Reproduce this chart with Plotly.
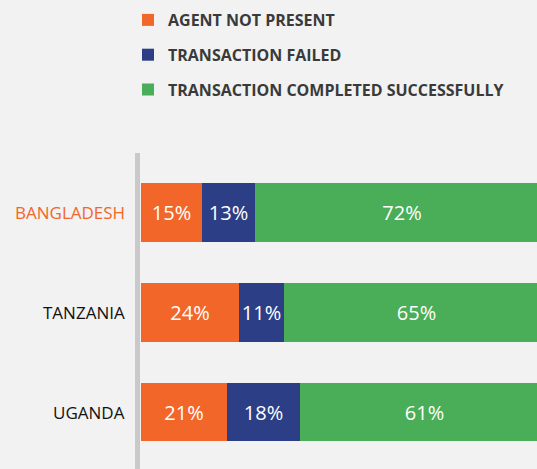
import plotly.graph_objects as go

countries = ["UGANDA", "TANZANIA", "BANGLADESH"]
agent_not_present = [21, 24, 15]
transaction_failed = [18, 11, 13]
completed = [61, 65, 72]
series_names = ["AGENT NOT PRESENT", "TRANSACTION FAILED", "TRANSACTION COMPLETED SUCCESSFULLY"]
colors = ["#f26729", "#2c3f86", "#4aad57"]
label_colors = ["#111111", "#111111", "#f26729"]

W, H = 537, 469
ML, MR, MT, MB = 141, 0, 153, 0
pw = W - ML - MR

fig = go.Figure()
for i, (name, vals) in enumerate(zip(series_names, [agent_not_present, transaction_failed, completed])):
    fig.add_trace(go.Bar(
        y=countries, x=vals, name=name, orientation="h",
        marker=dict(color=colors[i], line=dict(width=0)),
        width=0.59,
        text=[f"{v}%" for v in vals],
        textposition="inside", insidetextanchor="middle", textangle=0,
        textfont=dict(color="white", size=20, family="Open Sans"),
        constraintext="none", cliponaxis=True,
        legendgroup=f"g{i}",
        hoverinfo="skip",
    ))

for c, col in zip(countries, label_colors):
    fig.add_annotation(
        x=-14 / pw, xref="paper", y=c, yref="y", xanchor="right", yanchor="middle",
        text=c, showarrow=False,
        font=dict(size=17, color=col, family="Open Sans"),
    )

fig.add_shape(type="rect", xref="paper", yref="paper",
              x0=-6 / pw, x1=-1 / pw, y0=0, y1=1,
              fillcolor="#c9c9c9", line=dict(width=0), layer="above")

fig.update_layout(
    width=W, height=H,
    margin=dict(l=ML, r=MR, t=MT, b=MB, pad=0),
    paper_bgcolor="#f1f2f1", plot_bgcolor="#f1f2f1",
    barmode="stack", bargap=0,
    showlegend=True,
    legend=dict(
        x=-13 / pw, xanchor="left", y=1 + 150 / 316, yanchor="top",
        orientation="v", traceorder="grouped", tracegroupgap=11,
        font=dict(size=16, color="#3a3a3a", family="Open Sans", weight=700),
        bgcolor="rgba(0,0,0,0)",
    ),
    xaxis=dict(range=[0, 97.1], visible=False, fixedrange=True),
    yaxis=dict(categoryorder="array", categoryarray=countries,
               range=[-0.571, 2.596], showticklabels=False, showgrid=False,
               zeroline=False, showline=False, ticks="", fixedrange=True),
    font=dict(family="Open Sans"),
)

fig.write_html("out.html", config={"displayModeBar": False},
               post_script="document.body.style.margin='0';document.body.style.overflow='hidden';")
